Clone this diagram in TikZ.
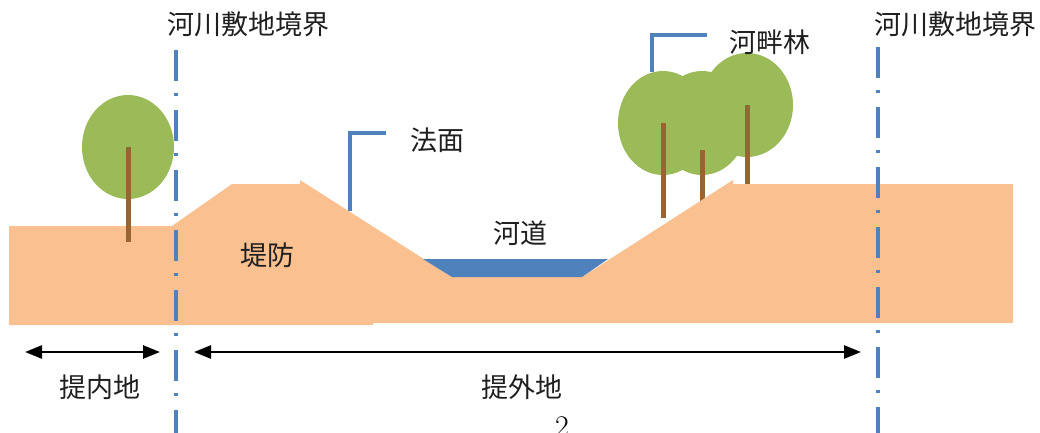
\documentclass[tikz,border=0pt]{standalone}
\usepackage{fontspec}
\newfontfamily\jp{Noto Sans CJK JP}
\usetikzlibrary{arrows.meta}
\definecolor{soil}{HTML}{FAC090}
\definecolor{leaf}{HTML}{9BBB59}
\definecolor{bark}{HTML}{9A6432}
\definecolor{river}{HTML}{4F81BD}
\begin{document}
\begin{tikzpicture}[x=1pt,y=-1pt,
  lbl/.style={font=\jp\fontsize{27}{30}\selectfont, inner sep=0pt, text=black!88},
  boundary/.style={river, line width=3.6pt, dash pattern=on 31pt off 12pt on 3pt off 14pt},
  leader/.style={river, line width=3.2pt},
  span/.style={line width=2.6pt, {Triangle[length=17pt,width=13pt]}-{Triangle[length=17pt,width=13pt]}},
  trunk/.style={bark, line width=5pt},
  crown/.style={fill=leaf}]
\useasboundingbox (0,0) rectangle (1040,432);
\clip (0,0) rectangle (1040,432);

% riverside forest (drawn behind the ground)
\fill[crown] (663,123) ellipse [x radius=45, y radius=52];
\fill[crown] (702,123) ellipse [x radius=45, y radius=52];
\fill[crown] (747,105) ellipse [x radius=46, y radius=52];
\draw[trunk] (663,123) -- (663,218);
\draw[trunk] (702,150) -- (702,210);
\draw[trunk] (747,105) -- (747,186);

% ground, levee and channel
\fill[soil] (9,226) -- (172,226) -- (232,184) -- (300,184) -- (300,180)
  -- (452,277) -- (582,277) -- (733,180) -- (733,184) -- (1013,184)
  -- (1013,323) -- (373,323) -- (373,325) -- (9,325) -- cycle;
% water
\fill[river] (423,259) -- (608,259) -- (582,277) -- (452,277) -- cycle;

% tree on the landward side
\fill[crown] (128,147) ellipse [x radius=46, y radius=52];
\draw[trunk] (128,147) -- (128,242);

% boundaries of the river area
\node[lbl] (bndL) at (248,24) {河川敷地境界};
\node[lbl] (bndR) at (955,24) {河川敷地境界};
\coordinate (bndLtop) at (176,50);
\coordinate (bndLbot) at (176,440);
\coordinate (bndRtop) at (878,47);
\coordinate (bndRbot) at (878,440);
\draw[boundary] (bndLtop) -- (bndLbot);
\draw[boundary] (bndRtop) -- (bndRbot);

% labels in the section
\node[lbl] (levee) at (267,255) {堤防};
\node[lbl] (channel) at (520,233) {河道};
\node[lbl] (slope) at (437,140) {法面};
\node[lbl] (forest) at (770,42) {河畔林};

% leader lines
\coordinate (slopeTip) at (350,211);
\coordinate (slopeEnd) at (386,133);
\draw[leader] (slopeTip) |- (slopeEnd);
\coordinate (forestTip) at (652,72);
\coordinate (forestEnd) at (707,35);
\draw[leader] (forestTip) |- (forestEnd);

% extents below the section
\coordinate (inA) at (25,352);
\coordinate (inB) at (160,352);
\coordinate (outA) at (194,352);
\coordinate (outB) at (861,352);
\draw[span] (inA) -- (inB);
\draw[span] (outA) -- (outB);
\node[lbl] (inland) at (100,387) {提内地};
\node[lbl] (outland) at (522,387) {提外地};

% page number
\node[font=\fontsize{30}{30}\selectfont, inner sep=0pt, anchor=base] (page) at (562,436) {2};
\end{tikzpicture}
\end{document}
